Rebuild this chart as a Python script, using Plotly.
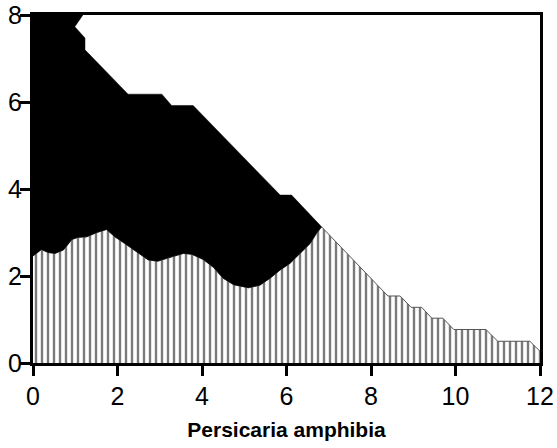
import plotly.graph_objects as go

# Outer envelope (top of black region), left part down to junction
env_x = [0, 1.18, 0.99, 1.23, 1.23, 2.25, 3.05, 3.28, 3.79, 5.85, 6.12, 6.83]
env_y = [8.0, 8.0, 7.73, 7.47, 7.2, 6.18, 6.18, 5.92, 5.92, 3.86, 3.86, 3.13]

# Boundary between black and hatched regions
mid_x = [0, 0.2, 0.36, 0.52, 0.72, 0.92, 1.07, 1.27, 1.51, 1.74, 1.94, 2.18, 2.45,
         2.73, 2.95, 3.24, 3.56, 3.76, 4.03, 4.27, 4.5, 4.75, 5.1, 5.37, 5.61, 5.85,
         6.08, 6.32, 6.56, 6.71, 6.83]
mid_y = [2.46, 2.61, 2.54, 2.52, 2.60, 2.84, 2.89, 2.90, 3.0, 3.07, 2.90, 2.75, 2.56,
         2.37, 2.34, 2.43, 2.52, 2.50, 2.38, 2.2, 1.95, 1.8, 1.73, 1.79, 1.95, 2.14,
         2.29, 2.52, 2.75, 2.98, 3.13]

# Outer envelope beyond the junction (top of hatched region)
tail_x = [6.83, 8.40, 8.69, 8.95, 9.2, 9.44, 9.7, 9.96, 10.72, 11.0, 11.76, 12.0]
tail_y = [3.13, 1.54, 1.54, 1.28, 1.28, 1.03, 1.03, 0.77, 0.77, 0.50, 0.50, 0.27]

x_ticks = [0, 2, 4, 6, 8, 10, 12]
y_ticks = [0, 2, 4, 6, 8]

FONT = "Liberation Sans, Arial, sans-serif"

fig = go.Figure()

hatch_x = mid_x + tail_x[1:]
hatch_y = mid_y + tail_y[1:]
fig.add_trace(go.Scatter(
    x=hatch_x, y=hatch_y, mode="lines", fill="tozeroy",
    line=dict(color="#555555", width=1),
    fillcolor="white",
    fillpattern=dict(shape="|", size=6, solidity=0.4,
                     fgcolor="#7a7a7a", bgcolor="white", fillmode="replace"),
    hoverinfo="skip", showlegend=False,
))

black_x = env_x + mid_x[::-1]
black_y = env_y + mid_y[::-1]
fig.add_trace(go.Scatter(
    x=black_x, y=black_y, mode="lines", fill="toself",
    fillcolor="black", line=dict(color="black", width=0.5),
    hoverinfo="skip", showlegend=False,
))

axis_common = dict(
    showgrid=False, zeroline=False, showline=True, linecolor="black",
    linewidth=3, mirror=True, ticks="outside", ticklen=10, tickwidth=3,
    tickcolor="black", tickfont=dict(family=FONT, size=25, color="black"),
    automargin=False,
)

fig.update_xaxes(range=[0, 12], tickvals=x_ticks, ticklabelstandoff=-1,
                 title=dict(text="<b>Persicaria amphibia</b>",
                            font=dict(family=FONT, size=21, color="black"),
                            standoff=14),
                 **axis_common)
fig.update_yaxes(range=[0, 8], tickvals=y_ticks, ticklabelstandoff=-7, **axis_common)

fig.update_layout(
    width=557, height=448,
    margin=dict(l=33, r=17, t=15, b=85),
    plot_bgcolor="white", paper_bgcolor="white",
    font=dict(family=FONT),
)

fig.write_html("out.html", config={"displayModeBar": False},
               post_script="document.body.style.margin='0px';")
